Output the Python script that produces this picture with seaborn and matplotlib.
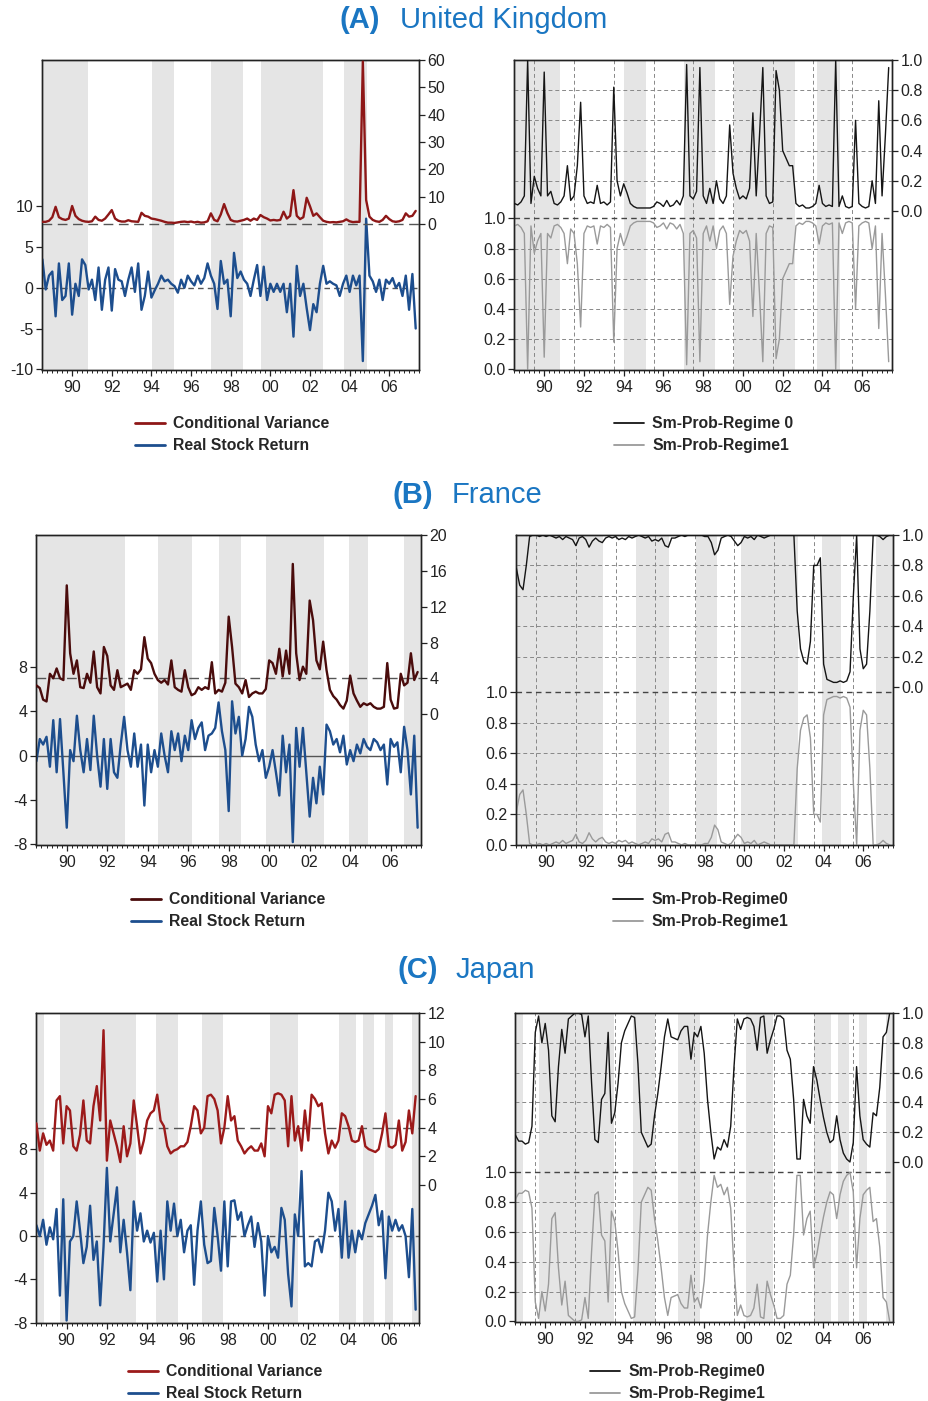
import numpy as np
import pandas as pd
import matplotlib
matplotlib.use("Agg")
import matplotlib.pyplot as plt
import seaborn as sns
from matplotlib.lines import Line2D

sns.set_theme(style="ticks")
plt.rcParams['font.family'] = ['Liberation Sans', 'DejaVu Sans']

# ---------------- data (bimonthly observations, 1989 - 2007) ----------------
START_YEAR = 1989.0
STEP = 1.0 / 6.0

uk_var = [0.8, 0.8, 1.2, 2.5, 6.3, 2.5, 1.8, 1.5, 2.0, 6.6, 3.0, 1.8,
          1.2, 0.9, 0.8, 1.0, 2.7, 1.5, 1.2, 2.0, 3.5, 5.1, 2.0, 1.2,
          0.9, 0.9, 1.4, 1.0, 0.9, 0.8, 4.1, 3.0, 2.7, 2.0, 1.8, 1.5,
          1.2, 0.8, 0.5, 0.5, 0.4, 0.6, 0.8, 0.9, 0.7, 0.9, 0.6, 0.8,
          0.5, 0.6, 1.0, 3.9, 1.5, 1.0, 3.5, 7.3, 4.0, 1.5, 1.0, 0.9,
          1.2, 1.5, 2.0, 1.2, 2.0, 1.5, 3.3, 2.5, 2.0, 1.3, 1.5, 1.3,
          1.5, 4.5, 2.0, 3.0, 12.4, 3.0, 1.8, 2.5, 9.6, 6.5, 3.0, 3.9,
          2.5, 1.2, 0.8, 0.6, 0.7, 0.6, 0.8, 1.0, 1.7, 1.0, 0.7, 0.8,
          0.8, 59.4, 8.8, 2.7, 1.5, 1.0, 0.8, 1.5, 3.0, 1.8, 1.0, 0.8,
          1.0, 1.5, 3.9, 2.7, 3.0, 4.8]
uk_ret = [3.5, -0.2, 1.5, 2.0, -3.5, 3.0, -1.5, -1.0, 3.0, -3.3, 0.5, -1.0,
          3.5, 2.8, -0.2, 1.0, -1.5, 2.5, -2.7, 1.0, 2.5, -2.8, 2.3, 1.0,
          0.8, -1.0, 1.0, 2.5, -0.5, 3.0, -2.7, -1.0, 2.0, -1.2, -0.3, 0.5,
          1.5, 0.8, 1.0, 0.5, 0.2, -0.6, 1.0, 0.0, 1.5, 0.8, 0.3, 1.5,
          0.5, 1.2, 3.0, 1.5, 0.5, -2.6, 3.3, 0.5, 1.0, -3.5, 4.3, 1.2,
          2.0, 1.0, 0.5, -1.0, 1.0, 2.8, -1.0, 2.6, -1.5, 0.5, -0.5, 0.5,
          -0.5, 0.5, -3.0, 0.5, -6.0, 2.7, -1.0, 0.5, -2.5, -5.2, -2.0, -3.0,
          0.5, 2.7, 0.5, 0.8, 0.5, 0.3, -1.0, 0.5, 1.5, -0.5, 1.5, 0.3,
          1.5, -9.0, 8.5, 1.5, 0.8, -0.5, 1.0, -1.5, 1.0, 0.5, 1.2, 0.0,
          0.6, -1.0, 1.5, -2.7, 1.7, -5.0]
uk_p0 = [0.05, 0.04, 0.06, 0.10, 1.00, 0.05, 0.23, 0.15, 0.10, 0.92, 0.10, 0.13,
         0.05, 0.04, 0.06, 0.10, 0.30, 0.07, 0.10, 0.30, 0.72, 0.10, 0.05, 0.06,
         0.05, 0.17, 0.05, 0.06, 0.04, 0.06, 0.82, 0.20, 0.10, 0.18, 0.12, 0.05,
         0.03, 0.02, 0.02, 0.02, 0.02, 0.02, 0.03, 0.06, 0.05, 0.03, 0.07, 0.03,
         0.04, 0.07, 0.04, 0.10, 0.97, 0.10, 0.08, 0.13, 0.95, 0.10, 0.05, 0.15,
         0.05, 0.20, 0.08, 0.05, 0.10, 0.57, 0.25, 0.15, 0.08, 0.10, 0.08, 0.15,
         0.65, 0.10, 0.50, 0.95, 0.10, 0.05, 0.06, 0.93, 0.80, 0.40, 0.35, 0.30,
         0.30, 0.05, 0.03, 0.04, 0.02, 0.02, 0.03, 0.05, 0.17, 0.05, 0.03, 0.04,
         0.03, 1.00, 0.03, 0.10, 0.03, 0.02, 0.03, 0.60, 0.05, 0.03, 0.02, 0.03,
         0.20, 0.05, 0.73, 0.10, 0.50, 0.95]
uk_p1 = [0.95, 0.96, 0.94, 0.90, 0.00, 0.95, 0.77, 0.85, 0.90, 0.08, 0.90, 0.87,
         0.95, 0.96, 0.94, 0.90, 0.70, 0.93, 0.90, 0.70, 0.28, 0.90, 0.95, 0.94,
         0.95, 0.83, 0.95, 0.94, 0.96, 0.94, 0.18, 0.80, 0.90, 0.82, 0.88, 0.95,
         0.97, 0.98, 0.98, 0.98, 0.98, 0.98, 0.97, 0.94, 0.95, 0.97, 0.93, 0.97,
         0.96, 0.93, 0.96, 0.90, 0.03, 0.90, 0.92, 0.87, 0.05, 0.90, 0.95, 0.85,
         0.95, 0.80, 0.92, 0.95, 0.90, 0.43, 0.75, 0.85, 0.92, 0.90, 0.92, 0.85,
         0.35, 0.90, 0.50, 0.05, 0.90, 0.95, 0.94, 0.07, 0.20, 0.60, 0.65, 0.70,
         0.70, 0.95, 0.97, 0.96, 0.98, 0.98, 0.97, 0.95, 0.83, 0.95, 0.97, 0.96,
         0.97, 0.00, 0.97, 0.90, 0.97, 0.98, 0.97, 0.40, 0.95, 0.97, 0.98, 0.97,
         0.80, 0.95, 0.27, 0.90, 0.50, 0.05]

fr_var = [3.2, 2.9, 1.6, 1.4, 4.5, 4.0, 5.1, 4.0, 3.8, 14.4, 6.8, 4.5,
          6.0, 3.0, 2.9, 4.5, 3.5, 7.0, 3.0, 2.3, 7.5, 6.5, 3.2, 2.7,
          4.9, 3.0, 3.2, 3.4, 2.7, 4.9, 4.5, 5.0, 8.6, 6.2, 5.7, 4.5,
          3.8, 3.5, 3.8, 3.3, 6.0, 3.0, 2.7, 2.5, 4.9, 3.0, 2.1, 2.3,
          3.0, 2.7, 3.0, 2.8, 5.8, 2.3, 2.7, 2.5, 3.5, 10.9, 7.5, 3.4,
          3.0, 2.3, 3.8, 1.9, 2.3, 2.5, 2.3, 2.3, 2.8, 6.0, 5.7, 4.5,
          7.3, 4.2, 7.1, 4.5, 16.8, 6.8, 3.8, 5.3, 4.5, 12.7, 10.5, 6.0,
          5.0, 8.1, 4.9, 2.7, 2.0, 1.6, 1.0, 0.6, 1.5, 4.3, 2.3, 1.5,
          0.8, 1.2, 1.0, 1.2, 0.8, 0.6, 0.6, 0.8, 5.7, 1.6, 0.6, 0.7,
          4.5, 3.2, 3.5, 6.8, 3.8, 4.7]
fr_ret = [-0.5, 1.5, 1.0, 1.7, -1.0, 3.2, -1.5, 3.3, -1.5, -6.5, 0.5, -0.5,
          3.6, 0.5, -1.5, 1.5, -1.3, 3.6, 0.0, -2.8, 1.5, -3.0, 1.5, -1.5,
          -2.0, 1.0, 3.5, 0.5, -1.0, 2.0, -1.0, 1.0, -4.5, 1.0, -1.5, 0.5,
          -1.0, 2.0, 0.0, -1.5, 2.2, 0.5, 2.0, -0.5, 1.8, 0.5, 3.2, 1.5,
          2.5, 3.0, 0.5, 1.8, 2.0, 2.5, 4.8, 2.2, 0.5, -5.0, 4.9, 2.0,
          3.5, 0.0, 1.5, 4.4, 3.5, 1.0, -0.5, 0.5, -2.0, -1.0, 0.5, -1.5,
          -3.6, 1.8, -1.5, 1.0, -7.8, 2.5, -1.0, 2.5, -1.5, -5.5, -2.0, -4.3,
          -1.0, -3.5, 2.8, 2.2, 1.0, 1.5, 0.3, 1.8, -0.8, 0.5, -0.5, 1.0,
          0.2, 1.5, 0.8, 0.5, 1.5, 1.2, 0.5, 1.0, -2.6, 1.5, 0.8, 1.2,
          -1.5, 2.6, 0.5, -3.5, 1.8, -6.5]
fr_p0 = [0.78, 0.67, 0.64, 0.80, 0.99, 1.00, 1.00, 0.99, 1.00, 0.99, 1.00, 0.99,
         0.98, 0.99, 0.97, 0.99, 0.98, 0.97, 0.93, 0.98, 0.99, 0.97, 0.92, 0.96,
         0.98, 0.96, 0.95, 0.98, 0.99, 0.98, 0.99, 0.97, 0.98, 0.97, 0.99, 0.98,
         0.99, 1.00, 0.99, 0.98, 0.99, 0.96, 0.97, 0.96, 0.98, 0.93, 0.92, 0.98,
         0.98, 0.99, 1.00, 0.99, 1.00, 1.00, 1.00, 1.00, 1.00, 0.99, 0.99, 0.95,
         0.87, 0.90, 0.98, 0.99, 1.00, 0.99, 0.96, 0.93, 0.95, 0.99, 0.98, 0.99,
         0.97, 1.00, 0.99, 0.98, 0.99, 1.00, 1.00, 1.00, 1.00, 1.00, 1.00, 1.00,
         1.00, 0.50, 0.25, 0.17, 0.15, 0.30, 0.80, 0.80, 0.85, 0.15, 0.05, 0.04,
         0.03, 0.03, 0.04, 0.03, 0.04, 0.10, 0.60, 1.00, 0.25, 0.12, 0.15, 0.50,
         1.00, 1.00, 0.99, 0.97, 0.99, 1.00]
fr_p1 = [0.22, 0.33, 0.36, 0.20, 0.01, 0.00, 0.00, 0.01, 0.00, 0.01, 0.00, 0.01,
         0.02, 0.01, 0.03, 0.01, 0.02, 0.03, 0.07, 0.02, 0.01, 0.03, 0.08, 0.04,
         0.02, 0.04, 0.05, 0.02, 0.01, 0.02, 0.01, 0.03, 0.02, 0.03, 0.01, 0.02,
         0.01, 0.00, 0.01, 0.02, 0.01, 0.04, 0.03, 0.04, 0.02, 0.07, 0.08, 0.02,
         0.02, 0.01, 0.00, 0.01, 0.00, 0.00, 0.00, 0.00, 0.00, 0.01, 0.01, 0.05,
         0.13, 0.10, 0.02, 0.01, 0.00, 0.01, 0.04, 0.07, 0.05, 0.01, 0.02, 0.01,
         0.03, 0.00, 0.01, 0.02, 0.01, 0.00, 0.00, 0.00, 0.00, 0.00, 0.00, 0.00,
         0.00, 0.50, 0.75, 0.83, 0.85, 0.70, 0.20, 0.20, 0.15, 0.85, 0.95, 0.96,
         0.97, 0.97, 0.96, 0.97, 0.96, 0.90, 0.40, 0.00, 0.75, 0.88, 0.85, 0.50,
         0.00, 0.00, 0.01, 0.03, 0.01, 0.00]

jp_var = [4.3, 2.4, 3.6, 2.8, 3.1, 2.4, 5.9, 6.2, 2.9, 5.5, 5.2, 2.7,
          2.4, 3.5, 5.9, 3.1, 2.9, 5.5, 6.9, 4.5, 10.8, 1.7, 4.5, 3.6,
          2.7, 1.6, 4.1, 2.0, 2.9, 5.9, 4.1, 2.2, 3.1, 4.5, 5.0, 5.2,
          6.3, 4.5, 4.1, 2.7, 2.2, 2.4, 2.5, 2.7, 2.7, 3.0, 4.1, 5.5,
          5.2, 3.6, 4.0, 6.2, 6.3, 6.0, 5.2, 2.9, 4.0, 6.2, 4.5, 4.8,
          3.1, 2.7, 2.2, 2.5, 2.7, 2.4, 2.4, 2.9, 2.0, 5.5, 5.0, 6.3,
          6.4, 6.3, 5.9, 2.7, 6.2, 3.1, 4.1, 2.4, 5.2, 3.1, 6.3, 6.0,
          5.5, 5.7, 3.6, 2.2, 3.1, 2.6, 3.1, 5.0, 4.8, 4.1, 3.1, 3.0,
          3.1, 4.1, 2.7, 2.5, 2.4, 2.3, 2.5, 3.6, 5.0, 2.7, 2.6, 2.8,
          4.5, 2.4, 3.0, 5.2, 3.6, 6.2]
jp_ret = [1.0, 0.0, 1.5, -0.8, 0.8, -0.3, 2.5, -5.5, 3.4, -7.8, -0.5, 0.0,
          3.2, 0.5, -2.5, -1.0, 2.8, -2.2, -0.5, -6.4, -1.0, 6.3, -0.5, 2.0,
          4.5, -1.5, 1.5, -1.5, -5.0, 3.2, 0.5, 2.1, -0.5, 0.5, -0.6, 0.3,
          -4.2, 0.5, -4.0, 3.2, 0.5, 3.0, 0.0, 1.5, -1.5, 0.5, 1.0, -4.5,
          0.5, 3.2, -0.8, -2.5, -2.3, 2.6, 0.0, -3.2, 3.2, -2.8, 3.2, 3.3,
          1.5, 2.2, 0.0, 1.0, 1.8, -1.0, 1.2, -0.5, -5.5, 0.0, -1.5, -1.0,
          -2.0, 2.6, 1.5, -3.5, -6.5, 2.0, 0.0, 6.0, -2.8, -2.5, -2.8, -0.5,
          -0.3, -1.5, 0.5, 4.0, 3.2, 0.5, 2.5, -2.0, 3.2, -2.0, 0.5, -1.5,
          0.5, -0.3, 1.2, 2.0, 2.8, 3.8, 1.0, 2.3, -3.9, 1.8, 0.5, 1.5,
          0.5, 1.0, 0.0, -3.8, 2.5, -6.8]
jp_p0 = [0.18, 0.14, 0.14, 0.12, 0.13, 0.24, 0.87, 0.98, 0.80, 0.93, 0.75, 0.31,
         0.27, 0.64, 0.89, 0.73, 0.96, 0.98, 1.00, 1.00, 0.99, 0.84, 0.98, 0.53,
         0.15, 0.13, 0.42, 0.46, 0.87, 0.26, 0.33, 0.53, 0.80, 0.88, 0.93, 0.98,
         0.97, 0.66, 0.20, 0.15, 0.10, 0.12, 0.31, 0.46, 0.64, 0.84, 0.96, 0.84,
         0.83, 0.82, 0.88, 0.91, 0.91, 0.69, 0.87, 0.84, 0.91, 0.73, 0.42, 0.20,
         0.02, 0.10, 0.08, 0.15, 0.10, 0.24, 0.64, 0.96, 0.89, 0.96, 0.97, 0.96,
         0.91, 0.75, 0.97, 0.98, 0.73, 0.82, 0.89, 0.98, 0.98, 0.96, 0.75, 0.69,
         0.42, 0.02, 0.02, 0.42, 0.31, 0.26, 0.64, 0.55, 0.42, 0.30, 0.20, 0.13,
         0.15, 0.31, 0.15, 0.06, 0.02, 0.00, 0.13, 0.64, 0.31, 0.15, 0.12, 0.10,
         0.33, 0.31, 0.50, 0.84, 0.87, 1.00]
jp_p1 = [0.82, 0.86, 0.86, 0.88, 0.87, 0.76, 0.13, 0.02, 0.20, 0.07, 0.25, 0.69,
         0.73, 0.36, 0.11, 0.27, 0.04, 0.02, 0.00, 0.00, 0.01, 0.16, 0.02, 0.47,
         0.85, 0.87, 0.58, 0.54, 0.13, 0.74, 0.67, 0.47, 0.20, 0.12, 0.07, 0.02,
         0.03, 0.34, 0.80, 0.85, 0.90, 0.88, 0.69, 0.54, 0.36, 0.16, 0.04, 0.16,
         0.17, 0.18, 0.12, 0.09, 0.09, 0.31, 0.13, 0.16, 0.09, 0.27, 0.58, 0.80,
         0.98, 0.90, 0.92, 0.85, 0.90, 0.76, 0.36, 0.04, 0.11, 0.04, 0.03, 0.04,
         0.09, 0.25, 0.03, 0.02, 0.27, 0.18, 0.11, 0.02, 0.02, 0.04, 0.25, 0.31,
         0.58, 0.98, 0.98, 0.58, 0.69, 0.74, 0.36, 0.45, 0.58, 0.70, 0.80, 0.87,
         0.85, 0.69, 0.85, 0.94, 0.98, 1.00, 0.87, 0.36, 0.69, 0.85, 0.88, 0.90,
         0.67, 0.69, 0.50, 0.16, 0.13, 0.00]

# shaded regime periods (decimal years)
uk_shade = [(1989.0, 1991.3), (1994.53, 1995.62), (1997.53, 1999.11),
            (2000.04, 2003.14), (2004.22, 2005.39)]
fr_shade = [(1988.9, 1993.37), (1995.02, 1996.7), (1998.04, 1999.1),
            (2000.33, 2003.2), (2004.43, 2005.36), (2007.15, 2008.1)]
jp_shade = [(1988.9, 1989.37), (1990.17, 1993.95), (1994.93, 1996.04),
            (1997.2, 1998.27), (2000.58, 2001.98), (2004.04, 2004.86),
            (2005.24, 2005.79), (2006.29, 2006.7), (2007.65, 2008.1)]

year_labels = ['90', '92', '94', '96', '98', '00', '02', '04', '06']
year_label_pos = [1990.5, 1992.5, 1994.5, 1996.5, 1998.5, 2000.5, 2002.5, 2004.5, 2006.5]
grid_years = [1990, 1992, 1994, 1996, 1998, 2000, 2002, 2004, 2006]

titles = [("(A)", "United Kingdom"), ("(B)", "France"), ("(C)", "Japan")]
legend_left = ["Conditional Variance", "Real Stock Return"]
legend_right_uk = ["Sm-Prob-Regime 0", "Sm-Prob-Regime1"]
legend_right = ["Sm-Prob-Regime0", "Sm-Prob-Regime1"]

# ---------------- style ----------------
W, H = 929, 1401
fig = plt.figure(figsize=(W / 100, H / 100), dpi=100)
SHADE = '#e5e5e5'
BLUE = '#1d4e8e'
BLACK = '#151515'
GRAY = '#9a9a9a'
TITLE_C = '#1a76c2'
XLIM = (1988.98, 2007.9)
TICK_FS = 11.5


def box(x0, y0, x1, y1):
    return [x0 / W, 1 - y1 / H, (x1 - x0) / W, (y1 - y0) / H]


def series_df(values):
    t = START_YEAR + STEP * np.arange(len(values))
    return pd.DataFrame({'t': t, 'v': values})


def style_axes(ax, ax2):
    for a in (ax, ax2):
        for s in a.spines.values():
            s.set_color('#222222')
            s.set_linewidth(1.0)
    ax.set_xlim(*XLIM)
    ax.set_xticks(year_label_pos, year_labels)
    ax.set_xticks(np.arange(1989.0, 2008.01, 0.25), minor=True)
    ax.tick_params(axis='x', which='major', direction='out', length=4.5, width=0.9,
                   labelsize=TICK_FS, pad=3, colors='#222222', labelcolor='#222222')
    ax.tick_params(axis='x', which='minor', direction='out', length=2.5, width=0.7,
                   colors='#222222')
    ax.tick_params(axis='y', direction='out', length=4, width=0.9, labelsize=TICK_FS,
                   pad=2, colors='#222222', labelcolor='#222222')
    ax2.tick_params(axis='y', direction='out', length=4, width=0.9, labelsize=TICK_FS,
                    pad=2, colors='#222222', labelcolor='#222222')
    ax.set_xlabel('')
    ax.set_ylabel('')
    ax2.set_xlabel('')
    ax2.set_ylabel('')


def add_legend(handles, labels, leg_xy):
    fig.legend(handles, labels, loc='upper left',
               bbox_to_anchor=(leg_xy[0] / W, 1 - leg_xy[1] / H), frameon=False,
               prop=dict(weight='bold', size=11.3), handlelength=1.9, handletextpad=0.55,
               labelspacing=0.45, borderpad=0, borderaxespad=0)


def return_panel(b, ret, var, shade, ylim_l, ylim_r, yt_l, yt_r, var_color, ref_r,
                 zero_ls, leg_xy):
    ax = fig.add_axes(box(*b))
    for a0, a1 in shade:
        ax.axvspan(a0, a1, color=SHADE, lw=0, zorder=0)
    ax2 = ax.twinx()
    ax.axhline(0, color='#555555', lw=1.0, ls=zero_ls, zorder=1)
    ax2.axhline(ref_r, color='#555555', lw=1.0, ls=(0, (7, 4)), zorder=1)
    sns.lineplot(data=series_df(ret), x='t', y='v', ax=ax, color=BLUE, lw=1.7,
                 estimator=None, legend=False, zorder=3)
    sns.lineplot(data=series_df(var), x='t', y='v', ax=ax2, color=var_color, lw=1.7,
                 estimator=None, legend=False, zorder=3)
    ax.set_ylim(*ylim_l)
    ax2.set_ylim(*ylim_r)
    ax.set_yticks(yt_l, [f"{v:g}" for v in yt_l])
    ax2.set_yticks(yt_r, [f"{v:g}" for v in yt_r])
    style_axes(ax, ax2)
    handles = [Line2D([], [], color=var_color, lw=2.0), Line2D([], [], color=BLUE, lw=2.0)]
    add_legend(handles, legend_left, leg_xy)


def prob_panel(b, p0, p1, shade, ylim_l, ylim_r, labels, leg_xy):
    ax = fig.add_axes(box(*b))
    for a0, a1 in shade:
        ax.axvspan(a0, a1, color=SHADE, lw=0, zorder=0)
    ax2 = ax.twinx()
    for g in grid_years:
        ax.axvline(g, color='#888888', lw=0.7, ls=(0, (4, 3)), zorder=1)
    for y in [0.2, 0.4, 0.6, 0.8]:
        ax.axhline(y, color='#888888', lw=0.7, ls=(0, (4, 3)), zorder=1)
        ax2.axhline(y, color='#888888', lw=0.7, ls=(0, (4, 3)), zorder=1)
    ax.axhline(1.0, color='#444444', lw=1.0, ls=(0, (4, 3)), zorder=1)
    sns.lineplot(data=series_df(p1), x='t', y='v', ax=ax, color=GRAY, lw=1.0,
                 estimator=None, legend=False, zorder=3)
    sns.lineplot(data=series_df(p0), x='t', y='v', ax=ax2, color=BLACK, lw=1.0,
                 estimator=None, legend=False, zorder=3)
    ticks = [0.0, 0.2, 0.4, 0.6, 0.8, 1.0]
    ax.set_ylim(*ylim_l)
    ax2.set_ylim(*ylim_r)
    ax.set_yticks(ticks, [f"{v:.1f}" for v in ticks])
    ax2.set_yticks(ticks, [f"{v:.1f}" for v in ticks])
    style_axes(ax, ax2)
    handles = [Line2D([], [], color=BLACK, lw=1.3), Line2D([], [], color=GRAY, lw=1.3)]
    add_legend(handles, labels, leg_xy)


# ---------------- panels ----------------
# (A) United Kingdom
return_panel((42, 60, 419, 370), uk_ret, uk_var, uk_shade, (-10.1, 28.0), (-53.4, 60.0),
             [-10, -5, 0, 5, 10], [0, 10, 20, 30, 40, 50, 60], '#8e1717', 0,
             (0, (4, 3)), (135, 416))
prob_panel((514, 60, 892, 370), uk_p0, uk_p1, uk_shade, (-0.005, 2.05), (-1.053, 1.0),
           legend_right_uk, (614, 416))

# (B) France
return_panel((36, 535, 421, 845), fr_ret, fr_var, fr_shade, (-8.06, 19.9), (-14.67, 20.04),
             [-8, -4, 0, 4, 8], [0, 4, 8, 12, 16, 20], '#4a0c0c', 4,
             '-', (131, 892))
prob_panel((516, 535, 893, 845), fr_p0, fr_p1, fr_shade, (0.0, 2.025), (-1.04, 1.0),
           legend_right, (613, 892))

# (C) Japan
return_panel((36, 1013, 419, 1323), jp_ret, jp_var, jp_shade, (-8.03, 20.6), (-9.63, 12.0),
             [-8, -4, 0, 4, 8], [0, 2, 4, 6, 8, 10, 12], '#9c1a1a', 4,
             (0, (4, 3)), (128, 1364))
prob_panel((515, 1013, 893, 1322), jp_p0, jp_p1, jp_shade, (-0.004, 2.07), (-1.074, 1.0),
           legend_right, (590, 1364))

# titles
title_pos = [((340, 20), (400, 20)), ((393, 495), (452, 495)), ((398, 970), (456, 970))]
for (lab, name), ((x0, y0), (x1, y1)) in zip(titles, title_pos):
    fig.text(x0 / W, 1 - y0 / H, lab, color=TITLE_C, fontsize=21, fontweight='bold',
             ha='left', va='center')
    fig.text(x1 / W, 1 - y1 / H, name, color=TITLE_C, fontsize=21, ha='left', va='center')

fig.savefig('out.png', dpi=100)
